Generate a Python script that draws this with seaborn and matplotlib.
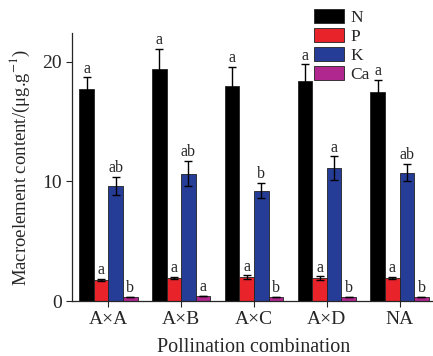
import matplotlib
matplotlib.use("Agg")
import matplotlib.pyplot as plt
import seaborn as sns
import pandas as pd
import numpy as np

groups = ["A×A", "A×B", "A×C", "A×D", "NA"]
elements = ["N", "P", "K", "Ca"]
N_vals = [17.7, 19.4, 17.95, 18.4, 17.5]
N_err = [1.0, 1.7, 1.6, 1.4, 1.0]
P_vals = [1.78, 1.92, 2.0, 1.92, 1.9]
P_err = [0.1, 0.12, 0.15, 0.15, 0.1]
K_vals = [9.65, 10.65, 9.23, 11.1, 10.74]
K_err = [0.75, 1.05, 0.65, 1.0, 0.72]
Ca_vals = [0.33, 0.4, 0.33, 0.33, 0.33]
Ca_err = [0.02, 0.02, 0.02, 0.02, 0.02]
N_letters = ["a", "a", "a", "a", "a"]
P_letters = ["a", "a", "a", "a", "a"]
K_letters = ["ab", "ab", "b", "a", "ab"]
Ca_letters = ["b", "a", "b", "b", "b"]
colors = ["#000000", "#e8232a", "#263d98", "#b0278f"]

vals = {"N": N_vals, "P": P_vals, "K": K_vals, "Ca": Ca_vals}
errs = {"N": N_err, "P": P_err, "K": K_err, "Ca": Ca_err}
letters = {"N": N_letters, "P": P_letters, "K": K_letters, "Ca": Ca_letters}

rows = []
for e in elements:
    for g, v in zip(groups, vals[e]):
        rows.append({"group": g, "element": e, "value": v})
df = pd.DataFrame(rows)

sns.set_style("ticks")
plt.rcParams["font.family"] = ["Liberation Serif", "DejaVu Serif"]
plt.rcParams["mathtext.fontset"] = "stix"

W, H = 433, 356
fig = plt.figure(figsize=(W / 100, H / 100), dpi=100)
ax = fig.add_axes([72 / W, 1 - 301 / H, (436 - 72) / W, (301 - 33) / H])

sns.barplot(data=df, x="group", y="value", hue="element", hue_order=elements,
            order=groups, palette=colors, ax=ax, width=0.8, errorbar=None,
            edgecolor="#222222", linewidth=0.6, saturation=1)

for cont, e in zip(ax.containers, elements):
    xs = [p.get_x() + p.get_width() / 2 for p in cont.patches]
    ys = [p.get_height() for p in cont.patches]
    ax.errorbar(xs, ys, yerr=errs[e], fmt="none", ecolor="black",
                elinewidth=1.0, capsize=3, capthick=1.0, zorder=5)
    for x, y, er, t in zip(xs, ys, errs[e], letters[e]):
        ax.text(x, y + er + 0.05, t, ha="center", va="bottom", fontsize=11.5)

ax.set_xlim(-0.5, 4.5)
ax.set_ylim(0, 22.4)
ax.set_yticks([0, 10, 20])
ax.tick_params(axis="both", labelsize=14, direction="out", length=4, width=0.8)
ax.set_xlabel("Pollination combination", fontsize=14.5, labelpad=7)
ax.set_ylabel("Macroelement content/(μg.g$^{-1}$)", fontsize=13.5, labelpad=7)
for s in ["top", "right"]:
    ax.spines[s].set_visible(False)
for s in ["left", "bottom"]:
    ax.spines[s].set_linewidth(0.9)

leg = ax.legend(loc="upper left", bbox_to_anchor=(0.665, 1.09), frameon=False,
                fontsize=12.5, handlelength=1.7, handleheight=0.85,
                labelspacing=0.12, handletextpad=0.4, borderaxespad=0,
                borderpad=0)
fig.savefig("out.png", dpi=100)
